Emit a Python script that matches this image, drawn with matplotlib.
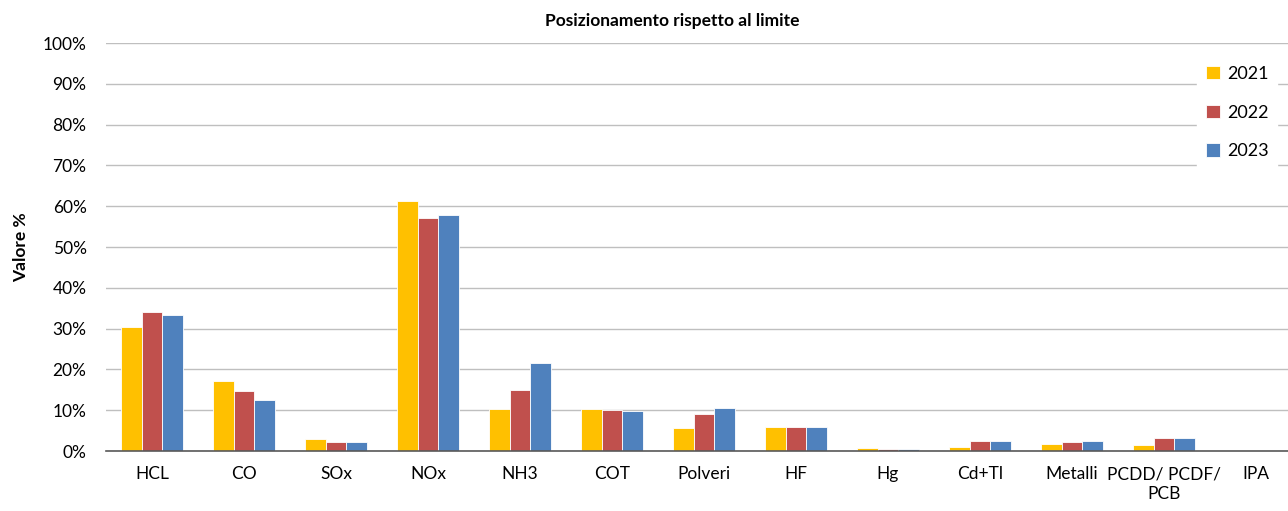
import numpy as np
import matplotlib
matplotlib.use("Agg")
import matplotlib.pyplot as plt
from matplotlib.ticker import PercentFormatter

# Data (percent of limit)
categories = ["HCL", "CO", "SOx", "NOx", "NH3", "COT", "Polveri", "HF", "Hg",
              "Cd+Tl", "Metalli", "PCDD/ PCDF/\nPCB", "IPA"]
years = ["2021", "2022", "2023"]
values_2021 = [30.4, 17.2, 2.9, 61.3, 10.2, 10.2, 5.6, 6.0, 0.7, 1.1, 1.7, 1.4, 0.0]
values_2022 = [34.0, 14.7, 2.1, 57.1, 15.0, 10.1, 9.1, 6.0, 0.6, 2.5, 2.1, 3.2, 0.0]
values_2023 = [33.3, 12.4, 2.1, 57.8, 21.6, 9.7, 10.5, 6.0, 0.6, 2.4, 2.4, 3.1, 0.0]
colors = ["#FFC000", "#C0504D", "#4F81BD"]

plt.rcParams["font.family"] = ["Lato", "DejaVu Sans"]

W, H = 1288, 511
fig = plt.figure(figsize=(W / 100, H / 100), dpi=100)
# axes run slightly past the right edge, like the Excel plot area
ax = fig.add_axes([106 / W, (H - 451) / H, (1302 - 106) / W, 408 / H])

x = np.arange(len(categories))
width = 0.225
for i, (vals, year) in enumerate(zip([values_2021, values_2022, values_2023], years)):
    ax.bar(x + (i - 1) * width, vals, width, color=colors[i], label=year,
           edgecolor="white", linewidth=0.6, zorder=3)

ax.set_xlim(-0.5, len(categories) - 0.5)
ax.set_ylim(0, 100)
ax.set_yticks(np.arange(0, 101, 10))
ax.yaxis.set_major_formatter(PercentFormatter(decimals=0))
ax.set_xticks(x)
ax.set_xticklabels(categories, fontsize=12.5, linespacing=1.25)
ax.tick_params(axis="y", labelsize=12.5, length=0, pad=14)
ax.tick_params(axis="x", length=0, pad=11)

ax.grid(axis="y", color="#BFBFBF", linewidth=1, zorder=0)
for side in ["top", "right", "left"]:
    ax.spines[side].set_visible(False)
ax.spines["bottom"].set_color("#595959")
ax.spines["bottom"].set_linewidth(1.2)
ax.spines["bottom"].set_zorder(4)

ax.set_ylabel("Valore %", fontsize=12.5, fontweight="bold", labelpad=10)
fig.text(672 / W, 1 - 21 / H, "Posizionamento rispetto al limite",
         ha="center", va="center", fontsize=12.5, fontweight="bold")

leg = fig.legend(loc="upper left", bbox_to_anchor=(1188 / W, 1 - 48 / H), frameon=True,
                 fontsize=13, handlelength=0.75, handleheight=0.75, handletextpad=0.4,
                 labelspacing=1.25, borderpad=0.5, fancybox=False)
leg.get_frame().set_edgecolor("white")
leg.get_frame().set_facecolor("white")
leg.get_frame().set_alpha(1)

fig.savefig("out.png", dpi=100)
